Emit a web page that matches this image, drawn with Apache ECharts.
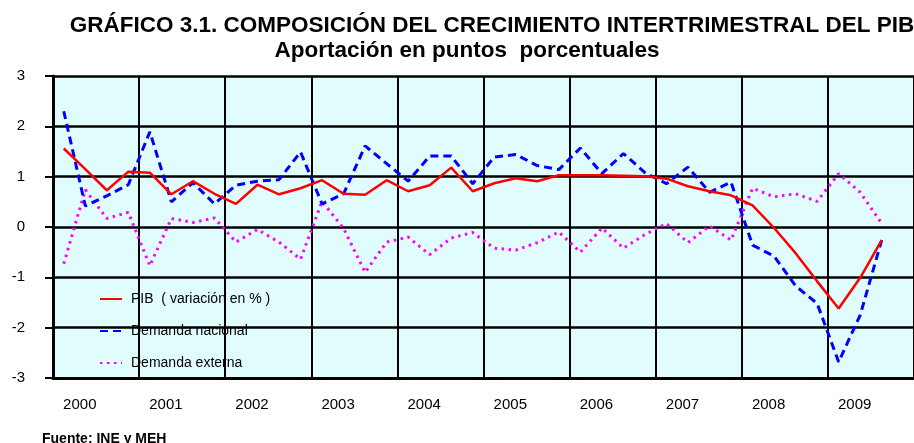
<!DOCTYPE html>
<html>
<head>
<meta charset="utf-8">
<script src="https://cdn.jsdelivr.net/npm/echarts@6/dist/echarts.min.js"></script>
<style>
html,body{margin:0;padding:0;background:#fff;overflow:hidden;}
#c{width:914px;height:443px;}
</style>
</head>
<body>
<div id="c"></div>
<script>
const years = ['2000','2001','2002','2003','2004','2005','2006','2007','2008','2009'];
const quarters = ['I','II','III','IV'];
const categories = [];
years.forEach(y => quarters.forEach(q => categories.push(y + ' ' + q)));

const pib = [1.56, 1.15, 0.73, 1.10, 1.08, 0.65, 0.91, 0.66, 0.46, 0.84,
             0.65, 0.77, 0.93, 0.66, 0.64, 0.93, 0.71, 0.83, 1.18, 0.71,
             0.87, 0.97, 0.91, 1.03, 1.03, 1.03, 1.02, 1.01, 0.96, 0.81,
             0.71, 0.63, 0.43, -0.02, -0.52, -1.08, -1.62, -1.01, -0.26];
const demandaNacional = [2.30, 0.42, 0.62, 0.84, 1.89, 0.50, 0.88, 0.46, 0.83, 0.91,
             0.94, 1.49, 0.46, 0.66, 1.61, 1.26, 0.91, 1.41, 1.41, 0.86,
             1.39, 1.44, 1.22, 1.14, 1.57, 1.06, 1.46, 1.08, 0.86, 1.19,
             0.69, 0.89, -0.36, -0.58, -1.17, -1.52, -2.68, -1.75, -0.26];
const demandaExterna = [-0.73, 0.74, 0.17, 0.29, -0.77, 0.17, 0.09, 0.18, -0.30, -0.05,
             -0.30, -0.64, 0.51, -0.03, -0.90, -0.30, -0.20, -0.55, -0.22, -0.11,
             -0.42, -0.46, -0.31, -0.10, -0.50, -0.02, -0.42, -0.15, 0.07, -0.31,
             0.02, -0.26, 0.77, 0.60, 0.66, 0.51, 1.06, 0.69, 0.07];
const yTicks = [-3, -2, -1, 0, 1, 2, 3];
const seriesNames = ['PIB  ( variación en % )', 'Demanda nacional', 'Demanda externa'];

const chart = echarts.init(document.getElementById('c'), null, {renderer: 'canvas'});
const FONT = '"Liberation Sans", Arial, sans-serif';

chart.setOption({
  animation: false,
  backgroundColor: '#ffffff',
  title: [
    {text: 'GRÁFICO 3.1. COMPOSICIÓN DEL CRECIMIENTO INTERTRIMESTRAL DEL PIB', left: 487, top: 9, textAlign: 'center',
     textStyle: {fontFamily: FONT, fontWeight: 'bold', fontSize: 22.5, color: '#000'}},
    {text: 'Aportación en puntos  porcentuales', left: 462, top: 34, textAlign: 'center',
     textStyle: {fontFamily: FONT, fontWeight: 'bold', fontSize: 22.5, color: '#000'}},
    {text: 'Fuente: INE y MEH', left: 37, top: 427,
     textStyle: {fontFamily: FONT, fontWeight: 'bold', fontSize: 14, color: '#000'}}
  ],
  legend: {
    orient: 'vertical', left: 94, top: 287, itemWidth: 22, itemHeight: 10, itemGap: 18,
    itemStyle: {opacity: 0},
    textStyle: {fontFamily: FONT, fontSize: 14, color: '#000', padding: [0, 0, 0, 4]},
    data: seriesNames
  },
  grid: {left: 53, right: -7, top: 76, bottom: 65, show: true, backgroundColor: '#E0FCFC', borderWidth: 0},
  xAxis: {
    type: 'category', data: categories, boundaryGap: true,
    axisLine: {onZero: false, lineStyle: {color: '#000', width: 3}},
    axisTick: {show: false},
    axisLabel: {interval: (i) => i % 4 === 1, formatter: (v) => v.split(' ')[0],
      fontFamily: FONT, fontSize: 15, color: '#000', margin: 19, padding: [0, 11, 0, 0]},
    splitLine: {show: true, interval: (i) => i % 4 === 0 && i > 0, lineStyle: {color: '#000', width: 2}}
  },
  yAxis: {
    type: 'value', min: -3, max: 3, interval: 1,
    axisLine: {show: true, lineStyle: {color: '#000', width: 3}},
    axisTick: {show: true, length: 8, lineStyle: {color: '#000', width: 2}},
    axisLabel: {fontFamily: FONT, fontSize: 15, color: '#000', margin: 28,
      formatter: (v) => yTicks.includes(v) ? String(v) : ''},
    splitLine: {show: true, lineStyle: {color: '#000', width: 2.5}}
  },
  series: [
    {name: seriesNames[0], type: 'line', data: pib, symbol: 'none', z: 5,
     lineStyle: {color: '#FF0000', width: 2.5, type: 'solid'}, itemStyle: {color: '#FF0000'}},
    {name: seriesNames[1], type: 'line', data: demandaNacional, symbol: 'none', z: 4,
     lineStyle: {color: '#0000FF', width: 3, type: [8, 5]}, itemStyle: {color: '#0000FF'}},
    {name: seriesNames[2], type: 'line', data: demandaExterna, symbol: 'none', z: 3,
     lineStyle: {color: '#FF00FF', width: 3, type: [2.5, 4.5]}, itemStyle: {color: '#FF00FF'}}
  ]
});
</script>
</body>
</html>
